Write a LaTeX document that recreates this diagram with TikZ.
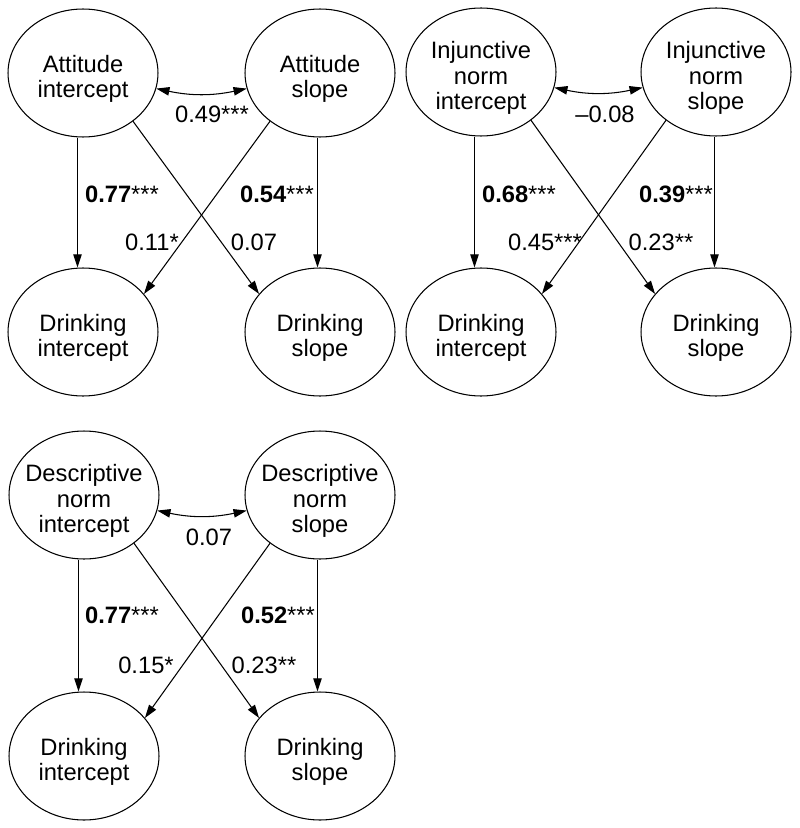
\documentclass[tikz,border=0pt]{standalone}
\usepackage{fontspec}
\setmainfont{Liberation Sans}
\usetikzlibrary{shapes.geometric,arrows.meta}

\begin{document}
\begin{tikzpicture}[x=0.02cm, y=-0.02cm,
  every node/.style={font=\fontsize{13.5}{14.5}\selectfont},
  factor/.style={draw, shape=ellipse, line width=0.6pt,
    minimum width=3cm, minimum height=2.56cm, inner sep=0pt},
  lbl/.style={align=center, yshift=-0.12cm},
  arr/.style={-{Triangle[length=7.5pt, width=4.8pt]}, line width=0.6pt},
  cov/.style={{Triangle[length=7.5pt, width=4.8pt]}-{Triangle[length=7.5pt, width=4.8pt]}, line width=0.6pt},
  coef/.style={anchor=base, inner sep=0pt}]
\useasboundingbox (0,0) rectangle (800,828);

% attitude
\node (attint) [factor, label={[lbl]center:Attitude\\intercept}] at (83,73) {};
\node (attslp) [factor, label={[lbl]center:Attitude\\slope}] at (320,73) {};
\node (drkint1) [factor, label={[lbl]center:Drinking\\intercept}] at (83,332) {};
\node (drkslp1) [factor, label={[lbl]center:Drinking\\slope}] at (320,332) {};
\draw[cov] (attint.-12) to[bend right=12] (attslp.192);
\draw[arr] ([xshift=-0.11cm]attint.south) -- ([xshift=-0.11cm]drkint1.north);
\draw[arr] ([xshift=-0.05cm]attslp.south) -- ([xshift=-0.05cm]drkslp1.north);
\draw[arr] (attint.-44) -- (drkslp1.148);
\draw[arr] (attslp.224) -- (drkint1.32);
\node (cov1) [coef] at (212,123) {0.49***};
\node (b11) [coef] at (122,202) {\textbf{0.77}***};
\node (b12) [coef] at (277,202) {\textbf{0.54}***};
\node (x11) [coef] at (152,250) {0.11*};
\node (x12) [coef] at (254,250) {0.07};

% injunctive norm
\node (injint) [factor, label={[lbl]center:Injunctive\\norm\\intercept}] at (481,72) {};
\node (injslp) [factor, label={[lbl]center:Injunctive\\norm\\slope}] at (716,72) {};
\node (drkint2) [factor, label={[lbl]center:Drinking\\intercept}] at (481,332) {};
\node (drkslp2) [factor, label={[lbl]center:Drinking\\slope}] at (716,332) {};
\draw[cov] (injint.-12) to[bend right=12] (injslp.192);
\draw[arr] ([xshift=-0.13cm]injint.south) -- ([xshift=-0.13cm]drkint2.north);
\draw[arr] ([xshift=-0.03cm]injslp.south) -- ([xshift=-0.03cm]drkslp2.north);
\draw[arr] (injint.-44) -- (drkslp2.148);
\draw[arr] (injslp.224) -- (drkint2.32);
\node (cov2) [coef] at (605,123) {\textendash0.08};
\node (b21) [coef] at (519,202) {\textbf{0.68}***};
\node (b22) [coef] at (676,202) {\textbf{0.39}***};
\node (x21) [coef] at (545,250) {0.45***};
\node (x22) [coef] at (661,250) {0.23**};

% descriptive norm
\node (desint) [factor, label={[lbl]center:Descriptive\\norm\\intercept}] at (84,495) {};
\node (desslp) [factor, label={[lbl]center:Descriptive\\norm\\slope}] at (320,495) {};
\node (drkint3) [factor, label={[lbl]center:Drinking\\intercept}] at (84,756) {};
\node (drkslp3) [factor, label={[lbl]center:Drinking\\slope}] at (320,756) {};
\draw[cov] (desint.-12) to[bend right=12] (desslp.192);
\draw[arr] ([xshift=-0.11cm]desint.south) -- ([xshift=-0.11cm]drkint3.north);
\draw[arr] ([xshift=-0.05cm]desslp.south) -- ([xshift=-0.05cm]drkslp3.north);
\draw[arr] (desint.-44) -- (drkslp3.148);
\draw[arr] (desslp.224) -- (drkint3.32);
\node (cov3) [coef] at (209,545) {0.07};
\node (b31) [coef] at (122,623) {\textbf{0.77}***};
\node (b32) [coef] at (278,623) {\textbf{0.52}***};
\node (x31) [coef] at (146,673) {0.15*};
\node (x32) [coef] at (264,673) {0.23**};
\end{tikzpicture}
\end{document}
